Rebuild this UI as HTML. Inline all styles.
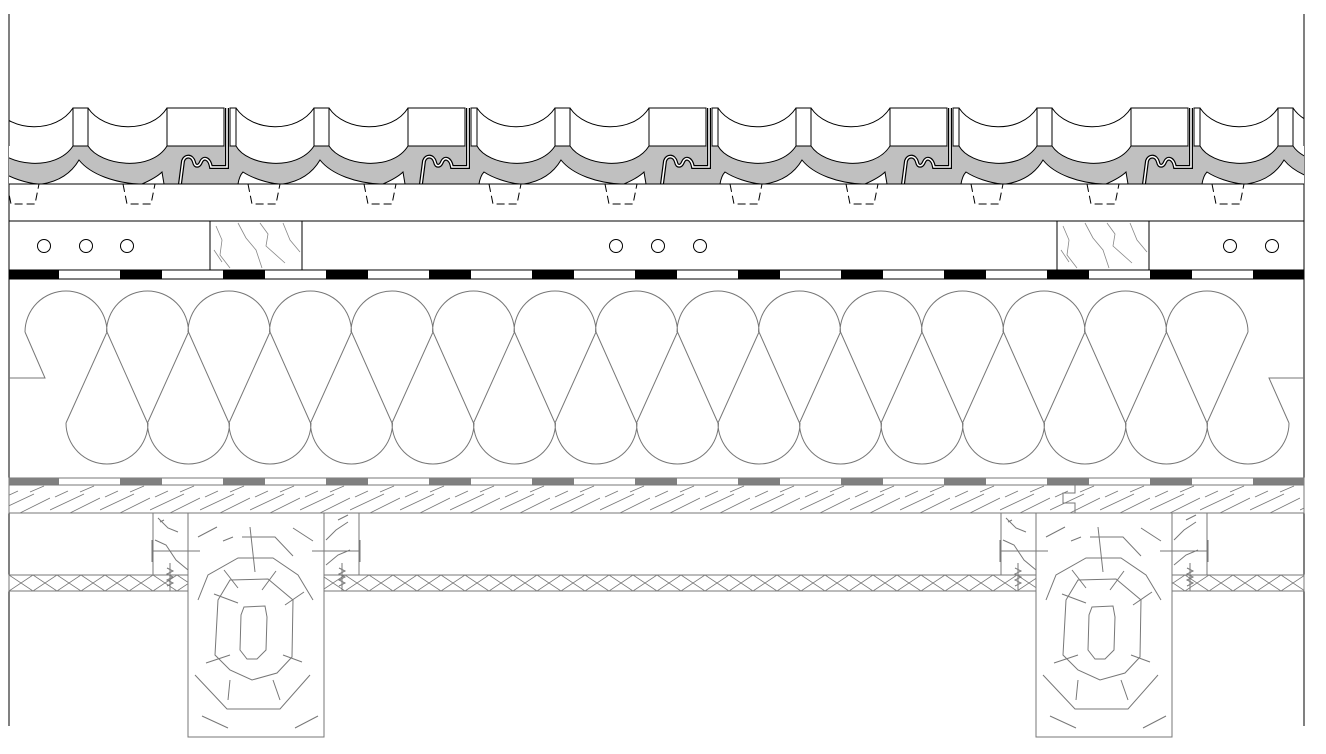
<!DOCTYPE html>
<html><head><meta charset="utf-8"><style>
html,body{margin:0;padding:0;background:#fff;}
svg{display:block;}
</style></head><body>
<svg width="1326" height="754" viewBox="0 0 1326 754" xmlns="http://www.w3.org/2000/svg">
<defs>
<clipPath id="cw"><rect x="9" y="0" width="1295" height="754"/></clipPath>
<g id="tp">
  <path d="M69,146 C80,166 130,172 147,146 Z" fill="#fff"/>
  <path d="M162,146 C175,166 225,172 241,146 Z" fill="#fff"/>
  <path d="M69,146 C80,166 130,172 147,146" fill="none" stroke="#000"/>
  <path d="M162,146 C175,166 225,172 241,146" fill="none" stroke="#000"/>
  <path d="M116,184 C135,181 146,172 153,160 C165,175 190,183 213,184 Z" fill="#fff" stroke="#000"/>
  <path d="M71,184 C72,178 74,174 76,172 C85,178 100,183 112,184 Z" fill="#fff" stroke="#000"/>
  <path d="M216,184 C225,180 232,176 236,172 L238,184 Z" fill="#fff" stroke="#000"/>
  <path d="M60,108 L60,167 L44,167 C42,157 36,157 34,162 C32,167 28,167 27,162 C25,155 18,155 16,161 L13,184" fill="none" stroke="#000" stroke-width="4"/>
  <path d="M60,108 L60,167 L44,167 C42,157 36,157 34,162 C32,167 28,167 27,162 C25,155 18,155 16,161 L13,184" fill="none" stroke="#fff" stroke-width="1.6"/>
  <rect x="0" y="108" width="57" height="38" fill="#fff" stroke="#000"/>
  <rect x="63" y="108" width="6" height="38" fill="#fff" stroke="#000"/>
  <rect x="147" y="108" width="15" height="38" fill="#fff" stroke="#000"/>
  <path d="M69,108 C85,132 130,134 147,108" fill="none" stroke="#000"/>
  <path d="M162,108 C178,132 225,134 241,108" fill="none" stroke="#000"/>
  <path d="M-44,184 L-40,204 L-16,204 L-12,184" fill="none" stroke="#000" stroke-dasharray="8,4"/>
  <path d="M81,184 L85,204 L109,204 L113,184" fill="none" stroke="#000" stroke-dasharray="8,4"/>
</g>
<pattern id="hb" x="0" y="485" width="50" height="28" patternUnits="userSpaceOnUse">
  <path d="M0,25 L34,9 M20,28 L50,13 M30,7 L44,1 M5,12 L18,6" stroke="#777" stroke-width="0.8" fill="none"/>
</pattern>
<pattern id="xb" x="9" y="575" width="24" height="16" patternUnits="userSpaceOnUse">
  <path d="M0,16 L24,0 M0,0 L24,16" stroke="#777" stroke-width="0.8" fill="none"/>
</pattern>
<g id="raf" stroke="#777" fill="none" stroke-width="1">
  <rect x="0" y="513" width="136" height="224" fill="#fff"/>
  <rect x="-35" y="513" width="35" height="62" fill="#fff"/>
  <rect x="136" y="513" width="35" height="62" fill="#fff"/>
  <path d="M56,607 L77,606 L79,617 L78,650 L69,659 L59,659 L52,650 L53,615 Z"/>
  <path d="M30,600 L42,580 L80,579 L105,600 L104,657 L89,673 L64,680 L42,670 L27,655 Z"/>
  <path d="M10,600 L20,575 L50,558 L85,558 L110,575 L125,600"/>
  <path d="M7,675 L39,709 L92,709 L122,675"/>
  <path d="M62,527 L67,572 M54,537 L87,537 L105,556 M10,537 L29,527 M105,528 L125,541 M35,541 L45,537 M36,570 L50,588 M88,571 L74,590 M26,594 L50,603 M97,605 L116,592 M18,663 L42,655 M95,655 L114,662 M40,700 L42,680 M85,680 L92,700 M14,716 L40,728 M107,728 L130,716"/>
  <path d="M-36,551 L12,551 M124,551 L172,551 M-36,540 L-36,562 M172,540 L172,562"/>
  <path d="M-30,518 L-20,528 L-10,532 M-33,540 L-22,545 L-12,560 L0,570 M-28,522 L-24,520 M150,520 L160,515 M138,540 L148,530 L160,522 M138,565 L150,555 L162,550"/>
  <path d="M-18,563 L-18,591 M-21,568 L-15,571 L-21,574 L-15,577 L-21,580 L-15,583 L-21,586" />
  <path d="M154,563 L154,591 M151,568 L157,571 L151,574 L157,577 L151,580 L157,583 L151,586" />
</g>
</defs>

<line x1="9" y1="14" x2="9" y2="726" stroke="#000"/>
<line x1="1304" y1="14" x2="1304" y2="726" stroke="#000"/>

<g clip-path="url(#cw)">
  <rect x="9" y="146" width="1295" height="38" fill="#c0c0c0"/>
  <use href="#tp" x="-74"/>
  <use href="#tp" x="167"/>
  <use href="#tp" x="408"/>
  <use href="#tp" x="649"/>
  <use href="#tp" x="890"/>
  <use href="#tp" x="1131"/>
</g>
<line x1="9" y1="184" x2="1304" y2="184" stroke="#000"/>
<line x1="9" y1="221" x2="1304" y2="221" stroke="#000"/>

<rect x="210" y="221" width="92" height="49" fill="#fff" stroke="#000"/>
<rect x="1057" y="221" width="92" height="49" fill="#fff" stroke="#000"/>
<g stroke="#888" fill="none" stroke-width="0.8">
  <path d="M216,226 L222,240 L220,255 L230,268 M238,223 L246,238 L256,250 L262,268 M260,223 L268,234 L266,246 L285,263 M283,223 L290,240 L300,252 M214,250 L222,262"/>
  <path d="M1063,226 L1069,240 L1067,255 L1077,268 M1085,223 L1093,238 L1103,250 L1109,268 M1107,223 L1115,234 L1113,246 L1132,263 M1130,223 L1137,240 L1147,252 M1061,250 L1069,262"/>
</g>
<g fill="#fff" stroke="#000">
  <circle cx="44" cy="246" r="6.5"/><circle cx="86" cy="246" r="6.5"/><circle cx="127" cy="246" r="6.5"/>
  <circle cx="616" cy="246" r="6.5"/><circle cx="658" cy="246" r="6.5"/><circle cx="700" cy="246" r="6.5"/>
  <circle cx="1230" cy="246" r="6.5"/><circle cx="1272" cy="246" r="6.5"/>
</g>

<rect x="9" y="270" width="1295" height="9" fill="#fff" stroke="#000"/>
<line x1="17" y1="274.5" x2="1304" y2="274.5" stroke="#000" stroke-width="9" stroke-dasharray="42,61"/>
<rect x="9" y="270" width="9" height="9" fill="#000"/>
<rect x="1255" y="270" width="49" height="9" fill="#000"/>

<g fill="none" stroke="#777" stroke-width="1">
  <path d="M25,332 A41,41 0 1 1 107,332 M106.5,332 A41,41 0 1 1 188.5,332 M188,332 A41,41 0 1 1 270,332 M269.5,332 A41,41 0 1 1 351.5,332 M351,332 A41,41 0 1 1 433,332 M432.5,332 A41,41 0 1 1 514.5,332 M514,332 A41,41 0 1 1 596,332 M595.5,332 A41,41 0 1 1 677.5,332 M677,332 A41,41 0 1 1 759,332 M758.5,332 A41,41 0 1 1 840.5,332 M840,332 A41,41 0 1 1 922,332 M921.5,332 A41,41 0 1 1 1003.5,332 M1003,332 A41,41 0 1 1 1085,332 M1084.5,332 A41,41 0 1 1 1166.5,332 M1166,332 A41,41 0 1 1 1248,332"/>
  <path d="M66,423 A41,41 0 1 0 148,423 M147.5,423 A41,41 0 1 0 229.5,423 M229,423 A41,41 0 1 0 311,423 M310.5,423 A41,41 0 1 0 392.5,423 M392,423 A41,41 0 1 0 474,423 M473.5,423 A41,41 0 1 0 555.5,423 M555,423 A41,41 0 1 0 637,423 M636.5,423 A41,41 0 1 0 718.5,423 M718,423 A41,41 0 1 0 800,423 M799.5,423 A41,41 0 1 0 881.5,423 M881,423 A41,41 0 1 0 963,423 M962.5,423 A41,41 0 1 0 1044.5,423 M1044,423 A41,41 0 1 0 1126,423 M1125.5,423 A41,41 0 1 0 1207.5,423 M1207,423 A41,41 0 1 0 1289,423"/>
  <polyline points="66,423 107,332 147.5,423 188.5,332 229,423 270,332 310.5,423 351.5,332 392,423 433,332 473.5,423 514.5,332 555,423 596,332 636.5,423 677.5,332 718,423 759,332 799.5,423 840.5,332 881,423 922,332 962.5,423 1003.5,332 1044,423 1085,332 1125.5,423 1166.5,332 1207,423 1248,332"/>
  <polyline points="25,332 45,378 9,378"/>
  <polyline points="1289,423 1269,378 1304,378"/>
</g>

<rect x="9" y="478" width="1295" height="7" fill="#fff" stroke="#777"/>
<line x1="17" y1="481.5" x2="1304" y2="481.5" stroke="#808080" stroke-width="7" stroke-dasharray="42,61"/>
<rect x="9" y="478" width="9" height="7" fill="#808080"/>
<rect x="1255" y="478" width="49" height="7" fill="#808080"/>

<rect x="9" y="485" width="1295" height="28" fill="url(#hb)" stroke="#777"/>
<path d="M1075,485 L1075,493 L1063,493 L1063,503 L1075,503 L1075,513" fill="none" stroke="#777"/>

<rect x="9" y="575" width="1295" height="16" fill="url(#xb)" stroke="#777"/>

<use href="#raf" x="188"/>
<use href="#raf" x="1036"/>
</svg>
</body></html>
